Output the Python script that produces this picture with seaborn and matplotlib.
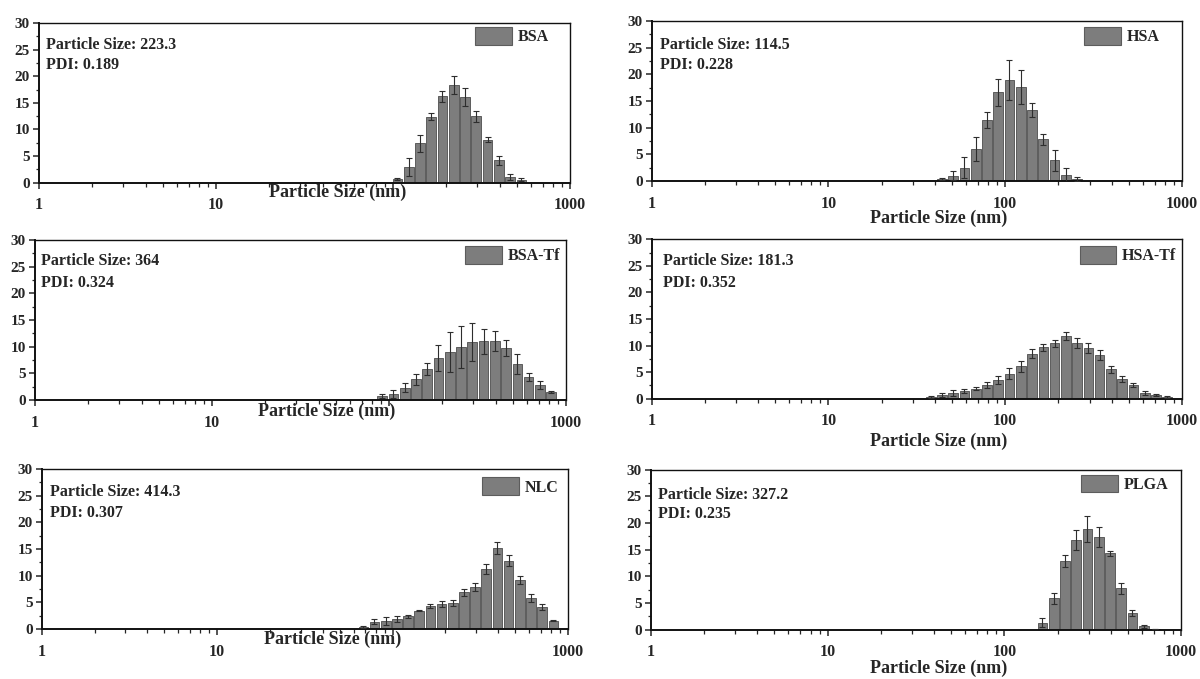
import numpy as np
import matplotlib
matplotlib.use("Agg")
import matplotlib.pyplot as plt
from matplotlib.ticker import MultipleLocator, LogLocator, NullFormatter
from matplotlib.patches import Patch
import seaborn as sns

# ---------------- data ----------------
BSA_size = [105.7, 122.4, 141.8, 164.2, 190.1, 220.2, 255.0, 295.3, 342.0, 396.1, 458.7, 531.2]
BSA_val = [0.7, 3.0, 7.4, 12.4, 16.2, 18.4, 16.1, 12.5, 8.1, 4.2, 1.1, 0.6]
BSA_err = [0.25, 1.7, 1.55, 0.6, 1.05, 1.65, 1.65, 1.05, 0.4, 0.8, 0.6, 0.3]

HSA_size = [43.82, 50.75, 58.77, 68.06, 78.82, 91.28, 105.7, 122.4, 141.8, 164.2, 190.1, 220.2, 255.0]
HSA_val = [0.37, 1.0, 2.5, 6.0, 11.4, 16.6, 18.9, 17.6, 13.3, 7.8, 3.9, 1.1, 0.35]
HSA_err = [0.25, 0.9, 2.0, 2.2, 1.5, 2.5, 3.75, 3.2, 1.35, 1.0, 2.0, 1.4, 0.4]

BSATf_size = [91.28, 105.7, 122.4, 141.8, 164.2, 190.1, 220.2, 255.0, 295.3, 342.0,
              396.1, 458.7, 531.2, 615.1, 712.4, 825.0]
BSATf_val = [0.75, 1.1, 2.3, 3.9, 5.8, 7.8, 9.0, 9.9, 10.9, 11.0, 11.05, 9.75, 6.75, 4.3, 2.75, 1.5]
BSATf_err = [0.45, 0.7, 0.8, 1.05, 1.05, 2.45, 3.7, 3.9, 3.5, 2.3, 1.85, 1.5, 1.95, 0.7, 0.75, 0.15]

HSATf_size = [37.84, 43.82, 50.75, 58.77, 68.06, 78.82, 91.28, 105.7, 122.4, 141.8, 164.2,
              190.1, 220.2, 255.0, 295.3, 342.0, 396.1, 458.7, 531.2, 615.1, 712.4, 825.0]
HSATf_val = [0.38, 0.7, 1.07, 1.45, 1.88, 2.58, 3.52, 4.7, 6.1, 8.5, 9.7,
             10.4, 11.74, 10.4, 9.5, 8.2, 5.5, 3.7, 2.6, 1.07, 0.7, 0.32]
HSATf_err = [0.2, 0.38, 0.56, 0.38, 0.3, 0.56, 0.75, 1.0, 1.0, 0.88, 0.63,
             0.63, 0.75, 0.94, 0.94, 0.94, 0.69, 0.5, 0.38, 0.38, 0.25, 0.12]

NLC_size = [68.06, 78.82, 91.28, 105.7, 122.4, 141.8, 164.2, 190.1, 220.2, 255.0,
            295.3, 342.0, 396.1, 458.7, 531.2, 615.1, 712.4, 825.0]
NLC_val = [0.38, 1.37, 1.5, 1.88, 2.38, 3.44, 4.31, 4.69, 4.88, 6.9, 7.9, 11.25, 15.2, 12.8, 9.2, 5.8, 4.1, 1.56]
NLC_err = [0.2, 0.44, 0.7, 0.63, 0.25, 0.13, 0.44, 0.5, 0.5, 0.63, 0.75, 0.94, 1.06, 1.06, 0.69, 0.75, 0.56, 0.12]

PLGA_size = [164.2, 190.1, 220.2, 255.0, 295.3, 342.0, 396.1, 458.7, 531.2, 615.1, 712.4]
PLGA_val = [1.31, 5.9, 12.9, 16.8, 18.9, 17.4, 14.3, 7.76, 3.07, 0.63, 0.13]
PLGA_err = [0.88, 1.0, 1.19, 1.81, 2.4, 1.8, 0.5, 1.0, 0.56, 0.25, 0.05]

sample_names = ["BSA", "HSA", "BSA-Tf", "HSA-Tf", "NLC", "PLGA"]
particle_size = ["223.3", "114.5", "364", "181.3", "414.3", "327.2"]
pdi = ["0.189", "0.228", "0.324", "0.352", "0.307", "0.235"]
x_ticks = [1, 10, 100, 1000]
y_ticks = [0, 5, 10, 15, 20, 25, 30]

series = [(BSA_size, BSA_val, BSA_err), (HSA_size, HSA_val, HSA_err),
          (BSATf_size, BSATf_val, BSATf_err), (HSATf_size, HSATf_val, HSATf_err),
          (NLC_size, NLC_val, NLC_err), (PLGA_size, PLGA_val, PLGA_err)]

# ---------------- layout / style ----------------
sns.set_style("ticks")
plt.rcParams["font.family"] = ["Liberation Serif", "DejaVu Serif"]
plt.rcParams["font.weight"] = "bold"

W, H = 1200, 679
# (left, right, top, bottom) in pixels
px_boxes = [(39, 570, 23, 182.7), (651.7, 1182, 21, 181),
            (35, 566, 240, 400), (651.7, 1182, 239.3, 398.7),
            (41.7, 568, 469, 629), (651, 1181, 469.7, 629.7)]
xlabel_pos = [(0.563, -0.062), (0.541, -0.231), (0.55, -0.07),
              (0.541, -0.265), (0.553, -0.064), (0.543, -0.24)]
xlabel_size = [13, 13, 13, 13, 13, 13]
text_pos = [(0.0126, 0.91, 0.79), (0.0156, 0.90, 0.773), (0.0107, 0.917, 0.78),
            (0.022, 0.912, 0.776), (0.0158, 0.904, 0.775), (0.013, 0.89, 0.77)]
legend_pos = [(0.96, 0.975), (0.957, 0.965), (0.989, 0.965),
              (0.989, 0.96), (0.981, 0.947), (0.9756, 0.97)]

BAR_COLOR = "#7d7d7d"
EDGE_COLOR = "#5c5c5c"
HALF_BIN = np.log10(25000) / 70 / 2  # half width of a DLS size class (log10 units)

fig = plt.figure(figsize=(12, 6.79), dpi=100)

for i, (sizes, vals, errs) in enumerate(series):
    l, r, t, b = px_boxes[i]
    ax = fig.add_axes([l / W, 1 - b / H, (r - l) / W, (b - t) / H])
    lo = np.log10(min(sizes)) - HALF_BIN
    hi = np.log10(max(sizes)) + HALF_BIN
    sns.histplot(x=sizes, weights=vals, bins=len(sizes), binrange=(lo, hi),
                 log_scale=True, shrink=0.86, color=BAR_COLOR, edgecolor=EDGE_COLOR,
                 linewidth=0.7, alpha=1.0, ax=ax)
    ax.errorbar(sizes, vals, yerr=errs, fmt="none", ecolor="#2e2e2e",
                elinewidth=0.8, capsize=2, capthick=0.8, zorder=3)

    ax.set_xscale("log")
    ax.set_xlim(1, 1000)
    ax.set_ylim(0, 30)
    ax.set_xticks(x_ticks)
    left_col = (i % 2 == 0)
    ax.set_xticklabels(["1", "10", "" if left_col else "100", "1000"])
    ax.xaxis.set_minor_locator(LogLocator(base=10, subs=np.arange(2, 10)))
    ax.xaxis.set_minor_formatter(NullFormatter())
    ax.set_yticks(y_ticks)
    ax.yaxis.set_minor_locator(MultipleLocator(2.5))

    ax.tick_params(axis="x", which="major", direction="out", length=4.5, width=1.1,
                   labelsize=11.5, pad=6)
    ax.tick_params(axis="x", which="minor", direction="out", length=2.8, width=0.9)
    ax.tick_params(axis="y", which="major", direction="out", length=4.5, width=1.1,
                   labelsize=11, pad=2)
    ax.tick_params(axis="y", which="minor", direction="out", length=2.5, width=0.9)

    for s in ["left", "bottom"]:
        ax.spines[s].set_linewidth(1.4)
    for s in ["top", "right"]:
        ax.spines[s].set_linewidth(1.0)
    for s in ax.spines.values():
        s.set_color("#111111")

    ax.set_ylabel("")
    ax.set_xlabel("Particle Size (nm)", fontsize=xlabel_size[i], fontweight="bold")
    ax.xaxis.set_label_coords(*xlabel_pos[i])
    ax.xaxis.label.set_va("center")

    tx, ty1, ty2 = text_pos[i]
    ax.text(tx, ty1, f"Particle Size: {particle_size[i]}", transform=ax.transAxes,
            va="top", ha="left", fontsize=11.5, fontweight="bold")
    ax.text(tx, ty2, f"PDI: {pdi[i]}", transform=ax.transAxes,
            va="top", ha="left", fontsize=11.5, fontweight="bold")

    handle = Patch(facecolor=BAR_COLOR, edgecolor=EDGE_COLOR, linewidth=0.8,
                   label=sample_names[i])
    ax.legend(handles=[handle], loc="upper right", bbox_to_anchor=legend_pos[i],
              frameon=False, borderaxespad=0, borderpad=0, handlelength=2.3,
              handleheight=1.35, handletextpad=0.35,
              prop={"size": 11.5, "weight": "bold"})

fig.savefig("out.png", dpi=100)
